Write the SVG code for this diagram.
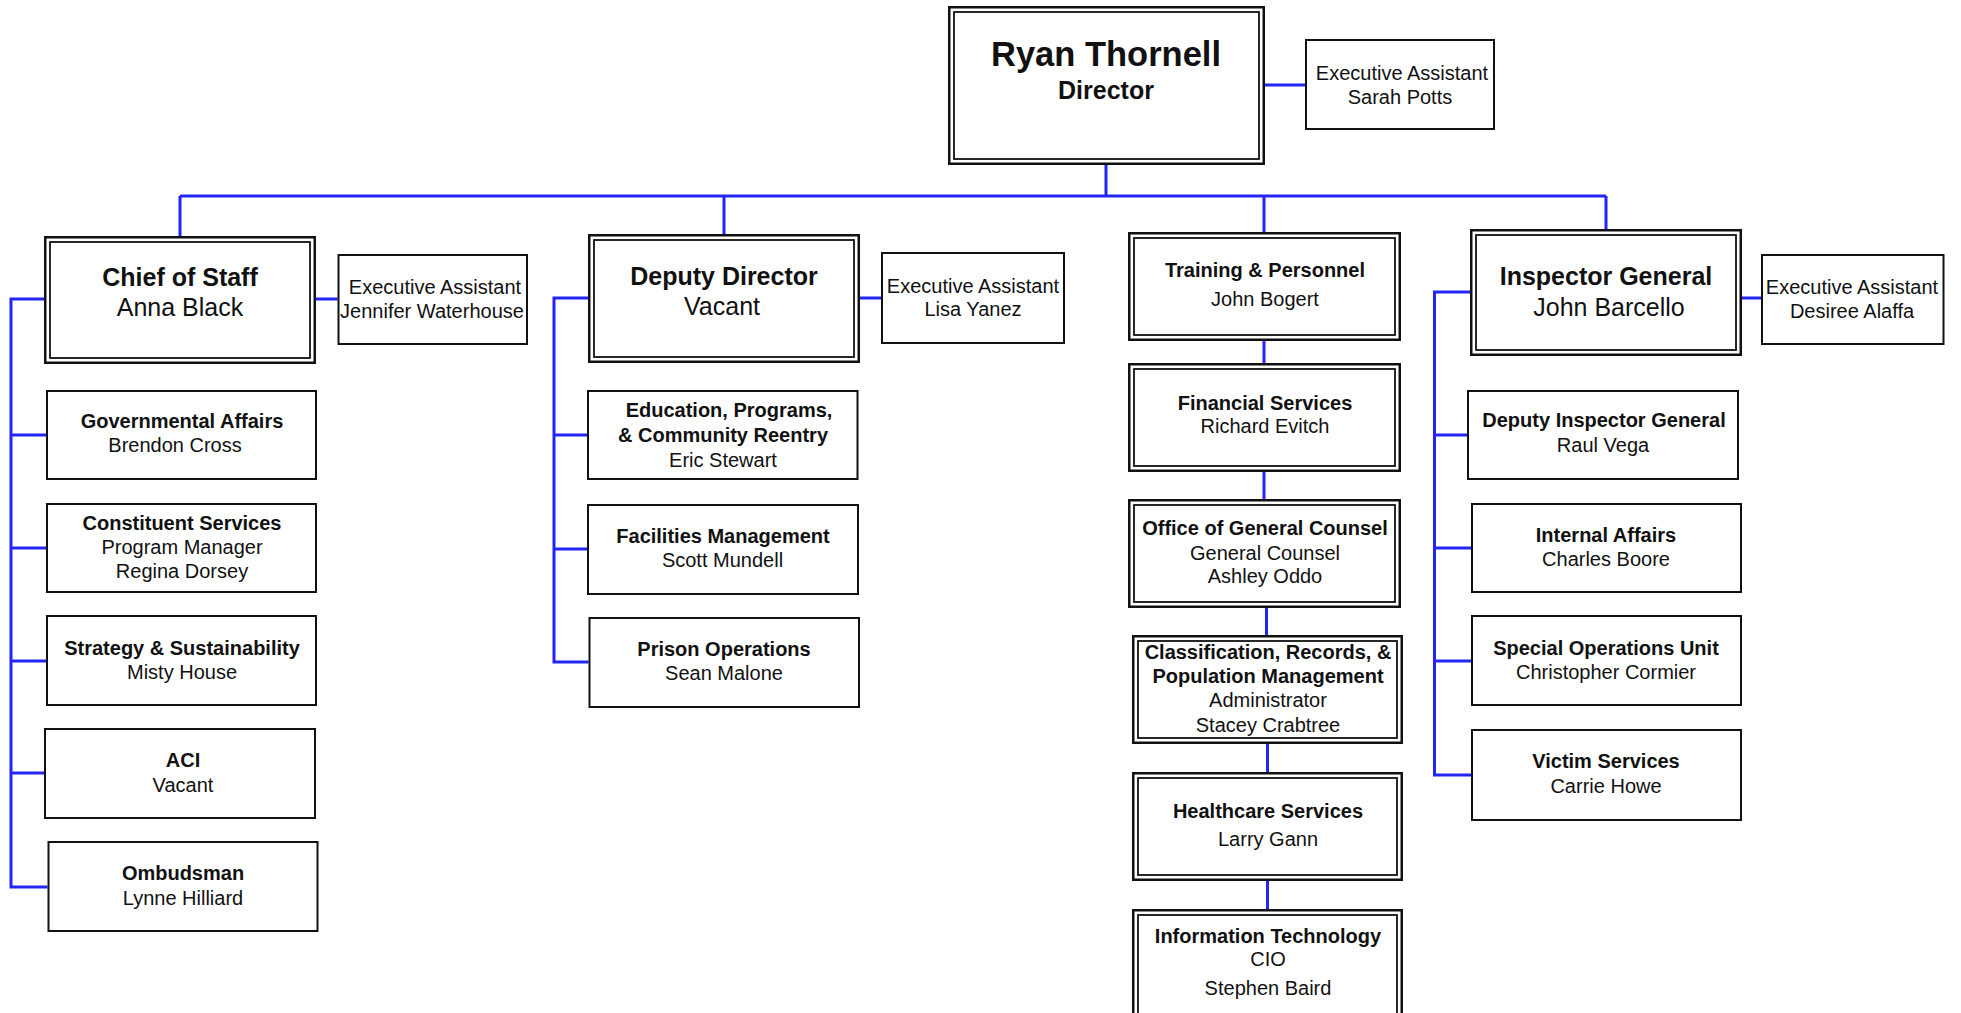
<svg xmlns="http://www.w3.org/2000/svg" width="1961" height="1013" viewBox="0 0 1961 1013">
<style>
.bg{fill:#ffffff}
.b{fill:#ffffff;stroke:#111111;stroke-width:2}
.o{fill:#ffffff;stroke:#111111;stroke-width:2.5}
.i{fill:none;stroke:#111111;stroke-width:1.8}
.c{fill:none;stroke:#2424f5;stroke-width:3}
text{font-family:"Liberation Sans",Arial,sans-serif;fill:#111111;text-anchor:middle}
.h{font-size:20px;font-weight:bold}
.n{font-size:20px}
.H{font-size:25px;font-weight:bold}
.N{font-size:25px}
.T{font-size:34.5px;font-weight:bold}
</style>
<rect class="bg" x="0" y="0" width="1961" height="1013"/>
<g id="connectors">
<path class="c" d="M1106 165V196M1265 85H1305M180 196H1606M180 196V236M724 196V234M1264 196V232M1606 196V229"/>
<path class="c" d="M316 299H337.5M44 299H11V887H47.5M11 435H46M11 548H46M11 661H46M11 773H44"/>
<path class="c" d="M860 298H881M588 298H554V662H588.6M554 435H587M554 549H587"/>
<path class="c" d="M1264 341V363M1264 472V499M1266.5 608V635M1267.5 744V772M1267.5 881V909"/>
<path class="c" d="M1742 298H1761M1470 292H1434.5V775H1471M1434.5 435H1467M1434.5 548H1471M1434.5 661H1471"/>
</g>
<g id="director"><rect class="o" x="949.25" y="7.25" width="314.5" height="156.5"/><rect class="i" x="954" y="12" width="305" height="147"/><text class="T" x="1106" y="66">Ryan Thornell</text><text class="H" x="1106" y="99">Director</text></g>
<g id="ea-sarah"><rect class="b" x="1306" y="40" width="188" height="89"/><text class="n" x="1402" y="80">Executive Assistant</text><text class="n" x="1400" y="104">Sarah Potts</text></g>
<g id="chief-of-staff"><rect class="o" x="45.25" y="237.25" width="269.5" height="125.5"/><rect class="i" x="50" y="242" width="260" height="116"/><text class="H" x="180" y="286">Chief of Staff</text><text class="N" x="180" y="316">Anna Black</text></g>
<g id="ea-jennifer"><rect class="b" x="338.5" y="255" width="188.5" height="89"/><text class="n" x="435" y="294">Executive Assistant</text><text class="n" x="432" y="318">Jennifer Waterhouse</text></g>
<g id="governmental-affairs"><rect class="b" x="47" y="391" width="269" height="88"/><text class="h" x="182" y="428">Governmental Affairs</text><text class="n" x="175" y="452">Brendon Cross</text></g>
<g id="constituent-services"><rect class="b" x="47" y="504" width="269" height="88"/><text class="h" x="182" y="530">Constituent Services</text><text class="n" x="182" y="554">Program Manager</text><text class="n" x="182" y="578">Regina Dorsey</text></g>
<g id="strategy"><rect class="b" x="47" y="616" width="269" height="89"/><text class="h" x="182" y="655">Strategy &amp; Sustainability</text><text class="n" x="182" y="679">Misty House</text></g>
<g id="aci"><rect class="b" x="45" y="729" width="270" height="89"/><text class="h" x="183" y="767">ACI</text><text class="n" x="183" y="792">Vacant</text></g>
<g id="ombudsman"><rect class="b" x="48.5" y="842" width="269" height="89"/><text class="h" x="183" y="880">Ombudsman</text><text class="n" x="183" y="905">Lynne Hilliard</text></g>
<g id="deputy-director"><rect class="o" x="589.25" y="235.25" width="269.5" height="126.5"/><rect class="i" x="594" y="240" width="260" height="117"/><text class="H" x="724" y="285">Deputy Director</text><text class="N" x="722" y="315">Vacant</text></g>
<g id="ea-lisa"><rect class="b" x="882" y="253" width="182" height="90"/><text class="n" x="973" y="293">Executive Assistant</text><text class="n" x="973" y="316">Lisa Yanez</text></g>
<g id="education"><rect class="b" x="588" y="391" width="269.5" height="88"/><text class="h" x="729" y="417">Education, Programs,</text><text class="h" x="723" y="442">&amp; Community Reentry</text><text class="n" x="723" y="467">Eric Stewart</text></g>
<g id="facilities"><rect class="b" x="588" y="505" width="270" height="89"/><text class="h" x="723" y="543">Facilities Management</text><text class="n" x="722.5" y="567">Scott Mundell</text></g>
<g id="prison-operations"><rect class="b" x="589.5" y="618" width="269.5" height="89"/><text class="h" x="724" y="656">Prison Operations</text><text class="n" x="724" y="680">Sean Malone</text></g>
<g id="training"><rect class="o" x="1129.25" y="233.25" width="270.5" height="106.5"/><rect class="i" x="1134" y="238" width="261" height="97"/><text class="h" x="1265" y="277">Training &amp; Personnel</text><text class="n" x="1265" y="306">John Bogert</text></g>
<g id="financial"><rect class="o" x="1129.25" y="364.25" width="270.5" height="106.5"/><rect class="i" x="1134" y="369" width="261" height="97"/><text class="h" x="1265" y="410">Financial Services</text><text class="n" x="1265" y="433">Richard Evitch</text></g>
<g id="general-counsel"><rect class="o" x="1129.25" y="500.25" width="270.5" height="106.5"/><rect class="i" x="1134" y="505" width="261" height="97"/><text class="h" x="1265" y="535">Office of General Counsel</text><text class="n" x="1265" y="560">General Counsel</text><text class="n" x="1265" y="583">Ashley Oddo</text></g>
<g id="classification"><rect class="o" x="1133.25" y="636.25" width="268.5" height="106.5"/><rect class="i" x="1138" y="641" width="259" height="97"/><text class="h" x="1268" y="659">Classification, Records, &amp;</text><text class="h" x="1268" y="683">Population Management</text><text class="n" x="1268" y="707">Administrator</text><text class="n" x="1268" y="732">Stacey Crabtree</text></g>
<g id="healthcare"><rect class="o" x="1133.25" y="773.25" width="268.5" height="106.5"/><rect class="i" x="1138" y="778" width="259" height="97"/><text class="h" x="1268" y="818">Healthcare Services</text><text class="n" x="1268" y="846">Larry Gann</text></g>
<g id="information-technology"><rect class="o" x="1133.25" y="910.25" width="268.5" height="112.5"/><rect class="i" x="1138" y="915" width="259" height="103"/><text class="h" x="1268" y="943">Information Technology</text><text class="n" x="1268" y="966">CIO</text><text class="n" x="1268" y="995">Stephen Baird</text></g>
<g id="inspector-general"><rect class="o" x="1471.25" y="230.25" width="269.5" height="124.5"/><rect class="i" x="1476" y="235" width="260" height="115"/><text class="H" x="1606" y="285">Inspector General</text><text class="N" x="1609" y="316">John Barcello</text></g>
<g id="ea-desiree"><rect class="b" x="1762" y="255" width="181.5" height="89"/><text class="n" x="1852" y="294">Executive Assistant</text><text class="n" x="1852" y="318">Desiree Alaffa</text></g>
<g id="deputy-ig"><rect class="b" x="1468" y="391" width="270" height="88"/><text class="h" x="1604" y="427">Deputy Inspector General</text><text class="n" x="1603" y="452">Raul Vega</text></g>
<g id="internal-affairs"><rect class="b" x="1472" y="504" width="269" height="88"/><text class="h" x="1606" y="542">Internal Affairs</text><text class="n" x="1606" y="566">Charles Boore</text></g>
<g id="special-operations"><rect class="b" x="1472" y="616" width="269" height="89"/><text class="h" x="1606" y="655">Special Operations Unit</text><text class="n" x="1606" y="679">Christopher Cormier</text></g>
<g id="victim-services"><rect class="b" x="1472" y="730" width="269" height="90"/><text class="h" x="1606" y="768">Victim Services</text><text class="n" x="1606" y="793">Carrie Howe</text></g>
</svg>
